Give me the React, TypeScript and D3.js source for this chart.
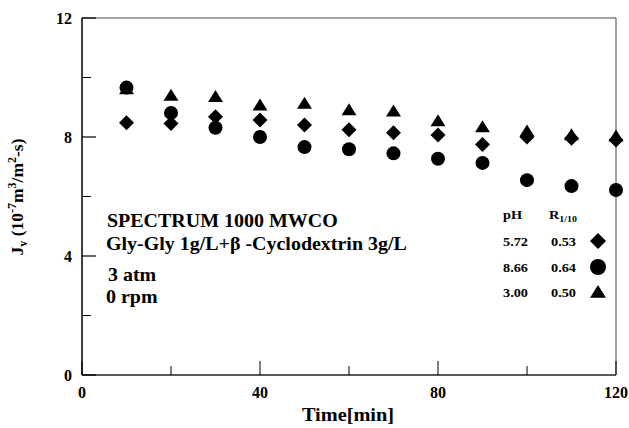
import React from 'react';
import * as d3 from 'd3';

const times = [10, 20, 30, 40, 50, 60, 70, 80, 90, 100, 110, 120];
const jvPh572 = [8.48, 8.45, 8.68, 8.57, 8.4, 8.24, 8.14, 8.07, 7.75, 8.0, 7.96, 7.9];
const jvPh866 = [9.66, 8.81, 8.31, 8.0, 7.66, 7.59, 7.45, 7.27, 7.13, 6.55, 6.35, 6.22];
const jvPh300 = [9.62, 9.4, 9.36, 9.07, 9.13, 8.91, 8.87, 8.54, 8.34, 8.2, 8.07, 8.03];

const xMajor = [0, 40, 80, 120];
const xMinor = [20, 60, 100];
const yMajor = [0, 4, 8, 12];
const yMinor = [2, 6, 10];

const noteLines = ['SPECTRUM 1000 MWCO', 'Gly-Gly 1g/L+\u03b2 -Cyclodextrin 3g/L', '3 atm', '0 rpm'];
const legendPh = ['5.72', '8.66', '3.00'];
const legendR = ['0.53', '0.64', '0.50'];
const legendShape = ['diamond', 'circle', 'triangle'];

const FONT = '"Liberation Serif", "Times New Roman", serif';

function marker(shape: string, s: number) {
  const h = s / 2;
  if (shape === 'diamond') return `M0,${-h}L${h},0L0,${h}L${-h},0Z`;
  if (shape === 'triangle') {
    const th = s * 0.8;
    return `M0,${-th * 0.55}L${h},${th * 0.45}L${-h},${th * 0.45}Z`;
  }
  const p = d3.path();
  p.arc(0, 0, h, 0, Math.PI * 2);
  return p.toString();
}

export default function App() {
  const x = d3.scaleLinear().domain([0, 120]).range([82, 616]);
  const y = d3.scaleLinear().domain([0, 12]).range([375, 18]);

  const series = [
    { shape: 'triangle', values: jvPh300 },
    { shape: 'circle', values: jvPh866 },
    { shape: 'diamond', values: jvPh572 },
  ];

  const noteY = [227, 250, 281, 303];
  const noteX = [107, 106, 108, 106];
  const legendRowY = [241, 267, 292];

  return (
    <svg width={629} height={428} style={{ position: 'absolute', left: 0, top: 0, background: '#fff' }}
      fontFamily={FONT} fontWeight="bold">
      {/* frame */}
      <line x1={x(0)} x2={x(120)} y1={y(12)} y2={y(12)} stroke="#444" strokeWidth={1} />
      <line x1={x(120)} x2={x(120)} y1={y(12)} y2={y(0)} stroke="#444" strokeWidth={1} />
      <line x1={x(0)} x2={x(120)} y1={y(0)} y2={y(0)} stroke="#222" strokeWidth={1.5} />
      <line x1={x(0)} x2={x(0)} y1={y(12)} y2={y(0)} stroke="#000" strokeWidth={1.5} />

      {/* ticks */}
      {xMajor.map(v => (
        <line key={'xM' + v} x1={x(v)} x2={x(v)} y1={y(0)} y2={y(0) - 14} stroke="#000" strokeWidth={1} />
      ))}
      {xMinor.map(v => (
        <line key={'xm' + v} x1={x(v)} x2={x(v)} y1={y(0)} y2={y(0) - 9} stroke="#000" strokeWidth={1} />
      ))}
      {yMajor.map(v => (
        <line key={'yM' + v} x1={x(0)} x2={x(0) + 14} y1={y(v)} y2={y(v)} stroke="#000" strokeWidth={1.2} />
      ))}
      {yMinor.map(v => (
        <line key={'ym' + v} x1={x(0)} x2={x(0) + 9} y1={y(v)} y2={y(v)} stroke="#000" strokeWidth={1} />
      ))}

      {/* tick labels */}
      {xMajor.map(v => (
        <text key={'xl' + v} x={x(v)} y={398} textAnchor="middle" fontSize={16}>{v}</text>
      ))}
      {yMajor.map(v => (
        <text key={'yl' + v} x={72} y={y(v) + 5.5} textAnchor="end" fontSize={16}>{v}</text>
      ))}

      {/* axis titles */}
      <text transform="translate(348,421) scale(1.07,1)" textAnchor="middle" fontSize={19}>Time[min]</text>
      <text transform={`translate(23,197) rotate(-90)`} textAnchor="middle" fontSize={17.5}>
        J<tspan fontSize={12} dy={4}>v</tspan>
        <tspan dy={-4}> (10</tspan>
        <tspan fontSize={12} dy={-7}>-7</tspan>
        <tspan dy={7}>m</tspan>
        <tspan fontSize={12} dy={-7}>3</tspan>
        <tspan dy={7}>/m</tspan>
        <tspan fontSize={12} dy={-7}>2</tspan>
        <tspan dy={7}>-s)</tspan>
      </text>

      {/* data */}
      {series.map(s => (
        <g key={s.shape}>
          {s.values.map((v, i) => (
            <path key={i} d={marker(s.shape, s.shape === 'circle' ? 14 : 15)}
              transform={`translate(${x(times[i])},${y(v)})`} fill="#000" />
          ))}
        </g>
      ))}

      {/* annotation */}
      {noteLines.map((t, i) => (
        <text key={t} transform={`translate(${noteX[i]},${noteY[i]}) scale(1.11,1)`} fontSize={18}>{t}</text>
      ))}

      {/* legend */}
      <text transform="translate(503,219) scale(1.1,1)" fontSize={13}>pH</text>
      <text transform="translate(549,219) scale(1.1,1)" fontSize={13}>R<tspan fontSize={9} dy={3}>1/10</tspan></text>
      {legendPh.map((t, i) => (
        <g key={t}>
          <text transform={`translate(503,${legendRowY[i] + 4.5}) scale(1.1,1)`} fontSize={13}>{t}</text>
          <text transform={`translate(551,${legendRowY[i] + 4.5}) scale(1.1,1)`} fontSize={13}>{legendR[i]}</text>
          <path d={marker(legendShape[i], 16)} transform={`translate(598,${legendRowY[i]})`} fill="#000" />
        </g>
      ))}
    </svg>
  );
}
